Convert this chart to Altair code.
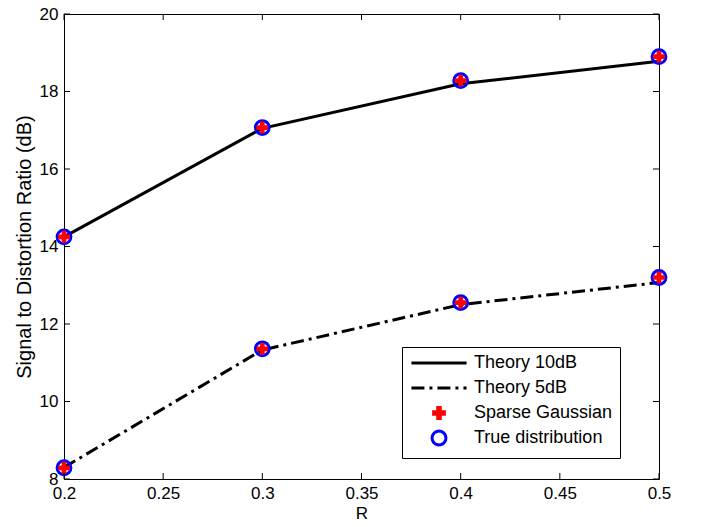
import altair as alt
import pandas as pd

# ---- data ----
R = [0.2, 0.3, 0.4, 0.5]
theory_10db = [14.25, 17.05, 18.2, 18.78]
theory_5db = [8.3, 11.33, 12.5, 13.07]
sparse_10db = [14.25, 17.07, 18.28, 18.9]
sparse_5db = [8.29, 11.36, 12.55, 13.2]
true_10db = [14.25, 17.07, 18.28, 18.9]
true_5db = [8.29, 11.36, 12.55, 13.2]

series_names = ["Theory 10dB", "Theory 5dB", "Sparse Gaussian", "True distribution"]

x_ticks = [0.2, 0.25, 0.3, 0.35, 0.4, 0.45, 0.5]
y_ticks = [8, 10, 12, 14, 16, 18, 20]

W, H = 595, 465
FONT = "Liberation Sans"
DASH = [13, 5, 3, 5]

t10_df = pd.DataFrame({"R": R, "SDR": theory_10db})
t5_df = pd.DataFrame({"R": R, "SDR": theory_5db})
sparse_df = pd.DataFrame({"R": R + R, "SDR": sparse_10db + sparse_5db})
true_df = pd.DataFrame({"R": R + R, "SDR": true_10db + true_5db})
legend_df = pd.DataFrame({"series": series_names})
xt_df = pd.DataFrame({"v": x_ticks})
yt_df = pd.DataFrame({"v": y_ticks})

xscale = alt.Scale(domain=[0.2, 0.5], nice=False, zero=False)
yscale = alt.Scale(domain=[8, 20], nice=False, zero=False)

x_enc = alt.X("R:Q", scale=xscale,
              axis=alt.Axis(values=x_ticks, format="~g", title="R", tickSize=0, domain=False,
                            grid=False, labelPadding=6, titlePadding=4, labelFlush=False))
y_enc = alt.Y("SDR:Q", scale=yscale,
              axis=alt.Axis(values=y_ticks, title="Signal to Distortion Ratio (dB)", tickSize=0,
                            domain=False, grid=False, labelPadding=6, titlePadding=5,
                            titleFontSize=20, labelFlush=False))
x_plain = alt.X("R:Q", scale=xscale)
y_plain = alt.Y("SDR:Q", scale=yscale)

line10 = alt.Chart(t10_df).mark_line(strokeWidth=3, color="black").encode(x=x_enc, y=y_enc)
line5 = alt.Chart(t5_df).mark_line(strokeWidth=3, color="black", strokeDash=DASH).encode(x=x_plain, y=y_plain)
circles = alt.Chart(true_df).mark_point(shape="circle", filled=False, size=190, strokeWidth=3,
                                        opacity=1, color="blue").encode(x=x_plain, y=y_plain)
crosses = alt.Chart(sparse_df).mark_point(shape="cross", filled=True, size=140, opacity=1,
                                          color="red").encode(x=x_plain, y=y_plain)

# legend-only layer (no rows drawn; entries come from the explicit scale domains)
dom = series_names
legend = alt.Legend(
    title=None, orient="none", legendX=338, legendY=333,
    strokeColor="black", fillColor="white", padding=7,
    labelFont=FONT, labelFontSize=18, labelColor="black",
    symbolSize=190, symbolOffset=21, labelOffset=26, rowPadding=-1, gridAlign="all",
)
legend_layer = alt.Chart(legend_df).transform_filter("datum.series == 'none'").mark_point(opacity=1).encode(
    shape=alt.Shape("series:N", scale=alt.Scale(domain=dom, range=["M-4,0H4", "M-4,0H4", "cross", "circle"]), legend=legend),
    fill=alt.Fill("series:N", scale=alt.Scale(domain=dom, range=["transparent", "transparent", "red", "transparent"]), legend=legend),
    stroke=alt.Stroke("series:N", scale=alt.Scale(domain=dom, range=["black", "black", "transparent", "blue"]), legend=legend),
    strokeDash=alt.StrokeDash("series:N", scale=alt.Scale(domain=dom, range=[[1, 0], DASH, [1, 0], [1, 0]]), legend=legend),
    strokeWidth=alt.StrokeWidth("series:N", scale=alt.Scale(domain=dom, range=[3, 3, 0, 3]), legend=legend),
)

# inward ticks (MATLAB style)
xb = alt.Chart(xt_df).mark_rule(color="black", strokeWidth=1).encode(
    x=alt.X("v:Q", scale=xscale), y=alt.value(H), y2=alt.value(H - 6))
xt = alt.Chart(xt_df).mark_rule(color="black", strokeWidth=1).encode(
    x=alt.X("v:Q", scale=xscale), y=alt.value(0), y2=alt.value(6))
yl = alt.Chart(yt_df).mark_rule(color="black", strokeWidth=1).encode(
    y=alt.Y("v:Q", scale=yscale), x=alt.value(0), x2=alt.value(6))
yr = alt.Chart(yt_df).mark_rule(color="black", strokeWidth=1).encode(
    y=alt.Y("v:Q", scale=yscale), x=alt.value(W), x2=alt.value(W - 6))

chart = alt.layer(line10, line5, circles, crosses, xb, xt, yl, yr, legend_layer).properties(
    width=W, height=H, background="white",
    autosize=alt.AutoSizeParams(type="none"),
    padding={"left": 56, "top": 6, "right": 35, "bottom": 48},
).configure_view(stroke="black", strokeWidth=1).configure_axis(
    labelFont=FONT, titleFont=FONT, labelFontSize=17, titleFontSize=17,
    titleFontWeight="normal", labelColor="black", titleColor="black",
)

chart.save("out.html", embed_options={"renderer": "svg", "actions": False})
